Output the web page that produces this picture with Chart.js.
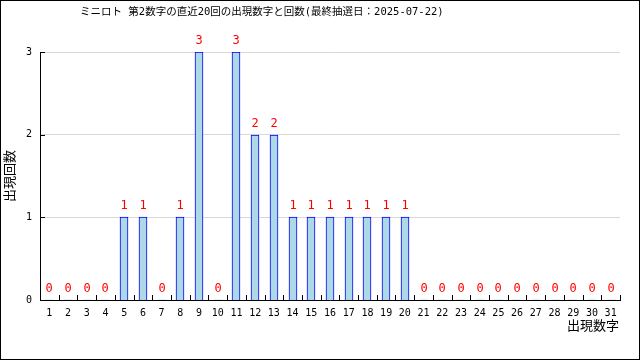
<!DOCTYPE html>
<html>
<head>
<meta charset="utf-8">
<script src="https://cdn.jsdelivr.net/npm/chart.js@4"></script>
<style>
  html, body { margin: 0; padding: 0; background: #fff; }
  #wrap { width: 640px; height: 360px; }
</style>
</head>
<body>
<div id="wrap"><canvas id="chart" width="640" height="360"></canvas></div>
<script>
// ミニロト 第2数字 data
const titleText = "ミニロト 第2数字の直近20回の出現数字と回数(最終抽選日：2025-07-22)"
const numbers = ["1","2","3","4","5","6","7","8","9","10","11","12","13","14","15","16","17","18","19","20","21","22","23","24","25","26","27","28","29","30","31"]
const counts = [0,0,0,0,1,1,0,1,3,0,3,2,2,1,1,1,1,1,1,1,0,0,0,0,0,0,0,0,0,0,0]
const yTicks = [0,1,2,3]
const xTitle = "出現数字"
const yTitle = "出現回数"

const monoFont = "'DejaVu Sans Mono', 'Noto Sans CJK JP', monospace"
const cjkFont = "'Noto Sans CJK JP', 'DejaVu Sans Mono', sans-serif"

// background, frame and texts
const framePlugin = {
  id: "frame",
  beforeDraw(chart) {
    const ctx = chart.ctx
    ctx.save()
    ctx.fillStyle = "#ffffff"
    ctx.fillRect(0, 0, chart.width, chart.height)
    ctx.restore()
  },
  afterDraw(chart) {
    const ctx = chart.ctx
    const area = chart.chartArea
    ctx.save()
    ctx.strokeStyle = "#000000"
    ctx.lineWidth = 1
    ctx.strokeRect(0.5, 0.5, chart.width - 1, chart.height - 1)

    // title sits left of centre in the original
    ctx.fillStyle = "#000000"
    ctx.font = "10.5px " + monoFont
    ctx.textAlign = "left"
    ctx.textBaseline = "middle"
    ctx.fillText(titleText, 80, 12)

    ctx.font = "13px " + cjkFont
    ctx.textAlign = "right"
    ctx.fillText(xTitle, area.right - 1, 325)

    ctx.translate(9.5, (area.top + area.bottom) / 2)
    ctx.rotate(-Math.PI / 2)
    ctx.textAlign = "center"
    ctx.fillText(yTitle, 0, 0)
    ctx.restore()
  }
}

// snap bars to whole pixels so the outlines stay crisp
const snapPlugin = {
  id: "snap",
  beforeDatasetsDraw(chart) {
    chart.getDatasetMeta(0).data.forEach((bar) => {
      bar.x = Math.round(bar.x)
      bar.y = Math.round(bar.y)
      bar.base = Math.round(bar.base)
    })
  }
}

// inward tick marks and value labels
const marksPlugin = {
  id: "marks",
  afterDraw(chart) {
    const ctx = chart.ctx
    const x = chart.scales.x
    const y = chart.scales.y
    ctx.save()
    ctx.strokeStyle = "#000000"
    ctx.lineWidth = 1
    ctx.beginPath()
    const n = numbers.length
    const half = (x.getPixelForValue(1) - x.getPixelForValue(0)) / 2
    for (let i = 0; i <= n; i++) {
      const px = i < n ? x.getPixelForValue(i) - half : x.getPixelForValue(n - 1) + half
      const sx = Math.round(px) + 0.5
      ctx.moveTo(sx, y.bottom)
      ctx.lineTo(sx, y.bottom - 5)
    }
    yTicks.forEach((v) => {
      const sy = Math.round(y.getPixelForValue(v)) + 0.5
      ctx.moveTo(x.left, sy)
      ctx.lineTo(x.left + 5, sy)
    })
    ctx.stroke()

    const meta = chart.getDatasetMeta(0)
    ctx.fillStyle = "#ff0000"
    ctx.font = "12px " + monoFont
    ctx.textAlign = "center"
    ctx.textBaseline = "bottom"
    meta.data.forEach((bar, i) => {
      ctx.fillText(String(counts[i]), bar.x, bar.y - 5)
    })
    ctx.restore()
  }
}

new Chart(document.getElementById("chart"), {
  type: "bar",
  data: {
    labels: numbers,
    datasets: [
      {
        data: counts,
        backgroundColor: "#add8e6",
        borderColor: "#0000ff",
        borderWidth: (c) => (counts[c.dataIndex] > 0 ? 1 : 0),
        barThickness: 8,
      },
    ],
  },
  options: {
    responsive: false,
    animation: false,
    devicePixelRatio: 1,
    layout: {
      padding: { top: 52, right: 20, left: 0, bottom: 0 },
    },
    plugins: {
      legend: { display: false },
      title: { display: false },
      tooltip: { enabled: false },
    },
    scales: {
      x: {
        grid: { display: false, drawTicks: false },
        border: { display: true, color: "#000000", width: 1, z: 1 },
        ticks: {
          color: "#000000",
          font: { family: monoFont, size: 10 },
          padding: 7,
          maxRotation: 0,
          autoSkip: false,
        },
        afterFit: (scale) => {
          scale.height = 60
        },
      },
      y: {
        min: 0,
        max: 3,
        grid: { color: "#d8d8d8", drawTicks: false },
        border: { display: true, color: "#000000", width: 1, z: 1 },
        ticks: {
          stepSize: 1,
          color: "#000000",
          font: { family: monoFont, size: 10 },
          padding: 8,
        },
        afterFit: (scale) => {
          scale.width = 40
        },
      },
    },
  },
  plugins: [framePlugin, snapPlugin, marksPlugin],
})
</script>
</body>
</html>
